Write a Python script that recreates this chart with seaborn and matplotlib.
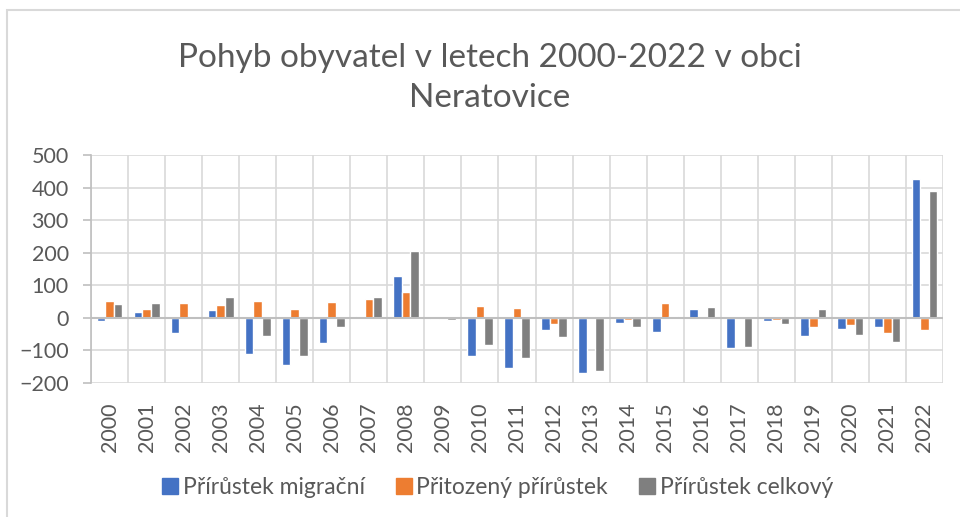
import matplotlib
matplotlib.use("Agg")
import matplotlib.pyplot as plt
import seaborn as sns
import pandas as pd
import numpy as np
from matplotlib.patches import Rectangle
from matplotlib.lines import Line2D

years = [str(y) for y in range(2000, 2023)]
migracni = [-10, 17, -48, 25, -110, -145, -78, 6, 128, -3, -117, -155, -38, -168, -16, -42, 27, -92, -10, -56, -34, -29, 425]
prirozeny = [51, 27, 45, 39, 51, 28, 50, 57, 78, -2, 36, 31, -20, 5, -8, 47, 3, 4, -6, -29, -22, -46, -38]
celkovy = [42, 45, 0, 64, -56, -117, -27, 64, 206, -8, -82, -123, -58, -162, -28, 5, 33, -89, -18, 28, -54, -73, 389]
series_names = ["Přírůstek migrační", "Přitozený přírůstek", "Přírůstek celkový"]
colors = ["#4472C4", "#ED7D31", "#7F7F7F"]
title = "Pohyb obyvatel v letech 2000-2022 v obci\nNeratovice"

df = pd.concat([
    pd.DataFrame({"year": years, "value": vals, "series": name})
    for name, vals in zip(series_names, [migracni, prirozeny, celkovy])
])

sns.set_theme(style="white")
plt.rcParams["font.family"] = ["Lato", "DejaVu Sans"]
txt = "#595959"

fig = plt.figure(figsize=(9.6, 5.17), dpi=100)
ax = fig.add_axes([91/960, 1-383/517, (943-91)/960, (383-155)/517])

sns.barplot(data=df, x="year", y="value", hue="series", palette=colors,
            width=0.7, ax=ax, legend=False, saturation=1)

ax.set_ylim(-200, 500)
ax.set_yticks(range(-200, 501, 100))
ax.set_xlim(-0.5, len(years)-0.5)
ax.set_xlabel("")
ax.set_ylabel("")
ax.grid(False)
for y in range(-200, 501, 100):
    ax.axhline(y, color="#d9d9d9", lw=1.2, zorder=0)
for i in range(len(years)+1):
    ax.axvline(i-0.5, color="#d9d9d9", lw=1.2, zorder=0)
ax.axhline(0, color="#bfbfbf", lw=1.5, zorder=3)

for s in ["top", "right", "bottom"]:
    ax.spines[s].set_visible(False)
ax.spines["left"].set_color("#bfbfbf")
ax.spines["left"].set_linewidth(1.2)
ax.tick_params(axis="y", left=True, length=6, width=1.2, color="#bfbfbf",
               labelsize=15.5, labelcolor=txt, pad=10)
ax.tick_params(axis="x", bottom=False, labelsize=15.5, labelcolor=txt,
               labelrotation=90, pad=8)

fig.text(490/960, 1-78/517, title, ha="center", va="center", fontsize=24,
         color=txt, linespacing=1.45)

handles = [Line2D([0], [0], marker="s", linestyle="", markersize=11,
                  markerfacecolor=c, markeredgecolor=c) for c in colors]
fig.legend(handles, series_names, loc="center", bbox_to_anchor=(497/960, 1-488/517),
           ncol=3, frameon=False, fontsize=16.5, labelcolor=txt,
           handletextpad=0.15, columnspacing=1.3, handlelength=0.8)

fig.patches.append(Rectangle((7/960, -0.1), 1.2, 1-10/517+0.1,
                             transform=fig.transFigure, fill=False,
                             edgecolor="#d9d9d9", lw=1.5))

fig.savefig("out.png", dpi=100)
